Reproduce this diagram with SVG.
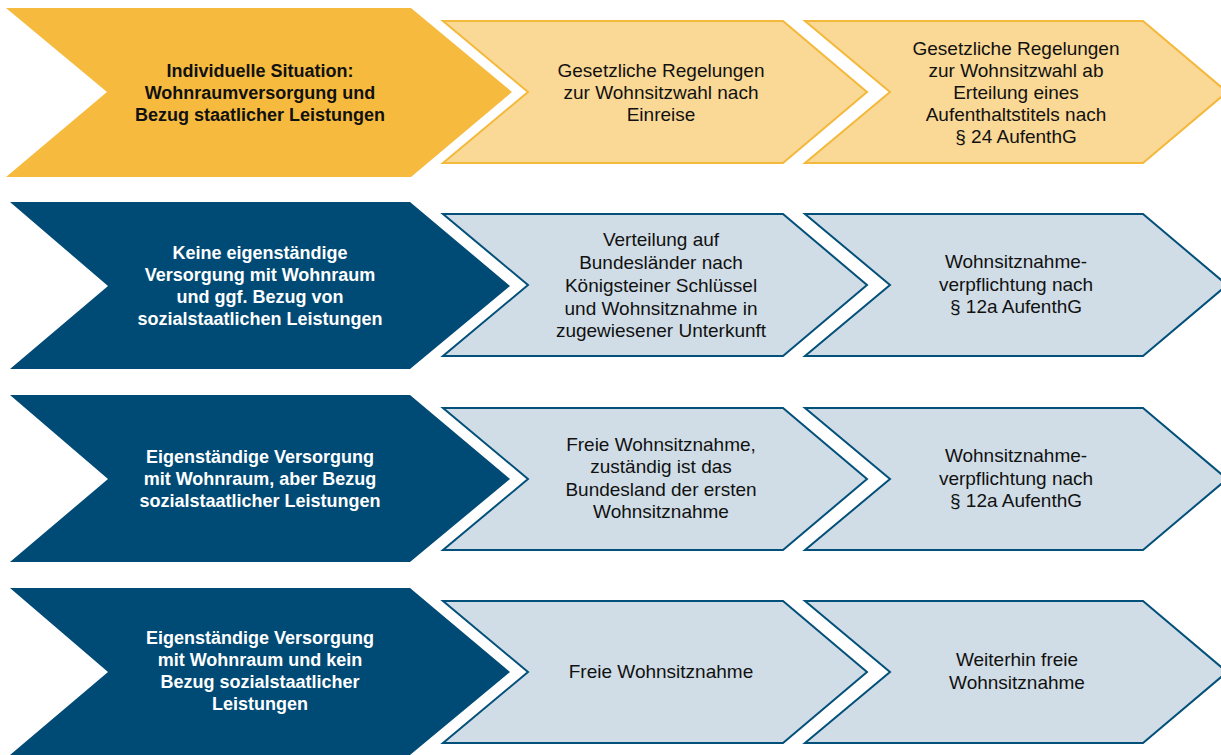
<svg xmlns="http://www.w3.org/2000/svg" width="1221" height="755" viewBox="0 0 1221 755">
  <style>
    .head-gold { fill: #f6bb3e; }
    .head-navy { fill: #004b76; }
    .step-gold { fill: #fad895; stroke: #f4b83b; stroke-width: 2; stroke-linejoin: miter; }
    .step-blue { fill: #d0dde6; stroke: #03507a; stroke-width: 2; stroke-linejoin: miter; }
    text { font-family: "Liberation Sans", Arial, sans-serif; text-anchor: middle; }
    .t-bold { font-size: 18px; font-weight: 700; }
    .t-dark { fill: #111111; }
    .t-light { fill: #ffffff; }
    .t-reg { font-size: 19px; font-weight: 400; fill: #111111; }
  </style>
  <defs>
    <!-- chevron outlines centred on y = 0 -->
    <polygon id="head-a" points="6,-84 411,-84 512,0 411,85 6,85 107,0"/>
    <polygon id="head" points="10,-84 410,-84 510,0 410,83 10,83 108,0"/>
    <polygon id="step2" points="443,-71 783,-71 867,0 783,71 443,71 528,0"/>
    <polygon id="step3" points="805,-71 1143,-71 1227,0 1143,71 805,71 890,0"/>
  </defs>

  <!-- row 1: column headings -->
  <g id="row1-head">
    <use href="#head-a" class="head-gold" transform="translate(0,92)"/>
    <text class="t-bold t-dark"><tspan x="260" y="77">Individuelle Situation:</tspan><tspan x="260" y="99">Wohnraumversorgung und</tspan><tspan x="260" y="121">Bezug staatlicher Leistungen</tspan></text>
  </g>
  <g id="row1-col2">
    <use href="#step2" class="step-gold" transform="translate(0,92)"/>
    <text class="t-reg"><tspan x="661" y="77">Gesetzliche Regelungen</tspan><tspan x="661" y="99">zur Wohnsitzwahl nach</tspan><tspan x="661" y="121">Einreise</tspan></text>
  </g>
  <g id="row1-col3">
    <use href="#step3" class="step-gold" transform="translate(0,92)"/>
    <text class="t-reg"><tspan x="1016" y="55">Gesetzliche Regelungen</tspan><tspan x="1016" y="77">zur Wohnsitzwahl ab</tspan><tspan x="1016" y="99">Erteilung eines</tspan><tspan x="1016" y="121">Aufenthaltstitels nach</tspan><tspan x="1016" y="143">§ 24 AufenthG</tspan></text>
  </g>

  <!-- row 2 -->
  <g id="row2-head">
    <use href="#head" class="head-navy" transform="translate(0,286)"/>
    <text class="t-bold t-light"><tspan x="260" y="259">Keine eigenständige</tspan><tspan x="260" y="281">Versorgung mit Wohnraum</tspan><tspan x="260" y="303">und ggf. Bezug von</tspan><tspan x="260" y="325">sozialstaatlichen Leistungen</tspan></text>
  </g>
  <g id="row2-col2">
    <use href="#step2" class="step-blue" transform="translate(0,285)"/>
    <text class="t-reg"><tspan x="661" y="246">Verteilung auf</tspan><tspan x="661" y="269">Bundesländer nach</tspan><tspan x="661" y="292">Königsteiner Schlüssel</tspan><tspan x="661" y="315">und Wohnsitznahme in</tspan><tspan x="661" y="337">zugewiesener Unterkunft</tspan></text>
  </g>
  <g id="row2-col3">
    <use href="#step3" class="step-blue" transform="translate(0,285)"/>
    <text class="t-reg"><tspan x="1016" y="268">Wohnsitznahme-</tspan><tspan x="1016" y="291">verpflichtung nach</tspan><tspan x="1016" y="313">§ 12a AufenthG</tspan></text>
  </g>

  <!-- row 3 -->
  <g id="row3-head">
    <use href="#head" class="head-navy" transform="translate(0,479)"/>
    <text class="t-bold t-light"><tspan x="260" y="463">Eigenständige Versorgung</tspan><tspan x="260" y="485">mit Wohnraum, aber Bezug</tspan><tspan x="260" y="507">sozialstaatlicher Leistungen</tspan></text>
  </g>
  <g id="row3-col2">
    <use href="#step2" class="step-blue" transform="translate(0,479)"/>
    <text class="t-reg"><tspan x="661" y="451">Freie Wohnsitznahme,</tspan><tspan x="661" y="473">zuständig ist das</tspan><tspan x="661" y="496">Bundesland der ersten</tspan><tspan x="661" y="518">Wohnsitznahme</tspan></text>
  </g>
  <g id="row3-col3">
    <use href="#step3" class="step-blue" transform="translate(0,479)"/>
    <text class="t-reg"><tspan x="1016" y="462">Wohnsitznahme-</tspan><tspan x="1016" y="485">verpflichtung nach</tspan><tspan x="1016" y="507">§ 12a AufenthG</tspan></text>
  </g>

  <!-- row 4 -->
  <g id="row4-head">
    <use href="#head" class="head-navy" transform="translate(0,672)"/>
    <text class="t-bold t-light"><tspan x="260" y="644">Eigenständige Versorgung</tspan><tspan x="260" y="666">mit Wohnraum und kein</tspan><tspan x="260" y="688">Bezug sozialstaatlicher</tspan><tspan x="260" y="710">Leistungen</tspan></text>
  </g>
  <g id="row4-col2">
    <use href="#step2" class="step-blue" transform="translate(0,672)"/>
    <text class="t-reg" x="661" y="678">Freie Wohnsitznahme</text>
  </g>
  <g id="row4-col3">
    <use href="#step3" class="step-blue" transform="translate(0,672)"/>
    <text class="t-reg"><tspan x="1017" y="666">Weiterhin freie</tspan><tspan x="1017" y="689">Wohnsitznahme</tspan></text>
  </g>

  <!-- the chevrons abut directly; there are no separate connector lines -->
  <g id="connectors"/>
</svg>
